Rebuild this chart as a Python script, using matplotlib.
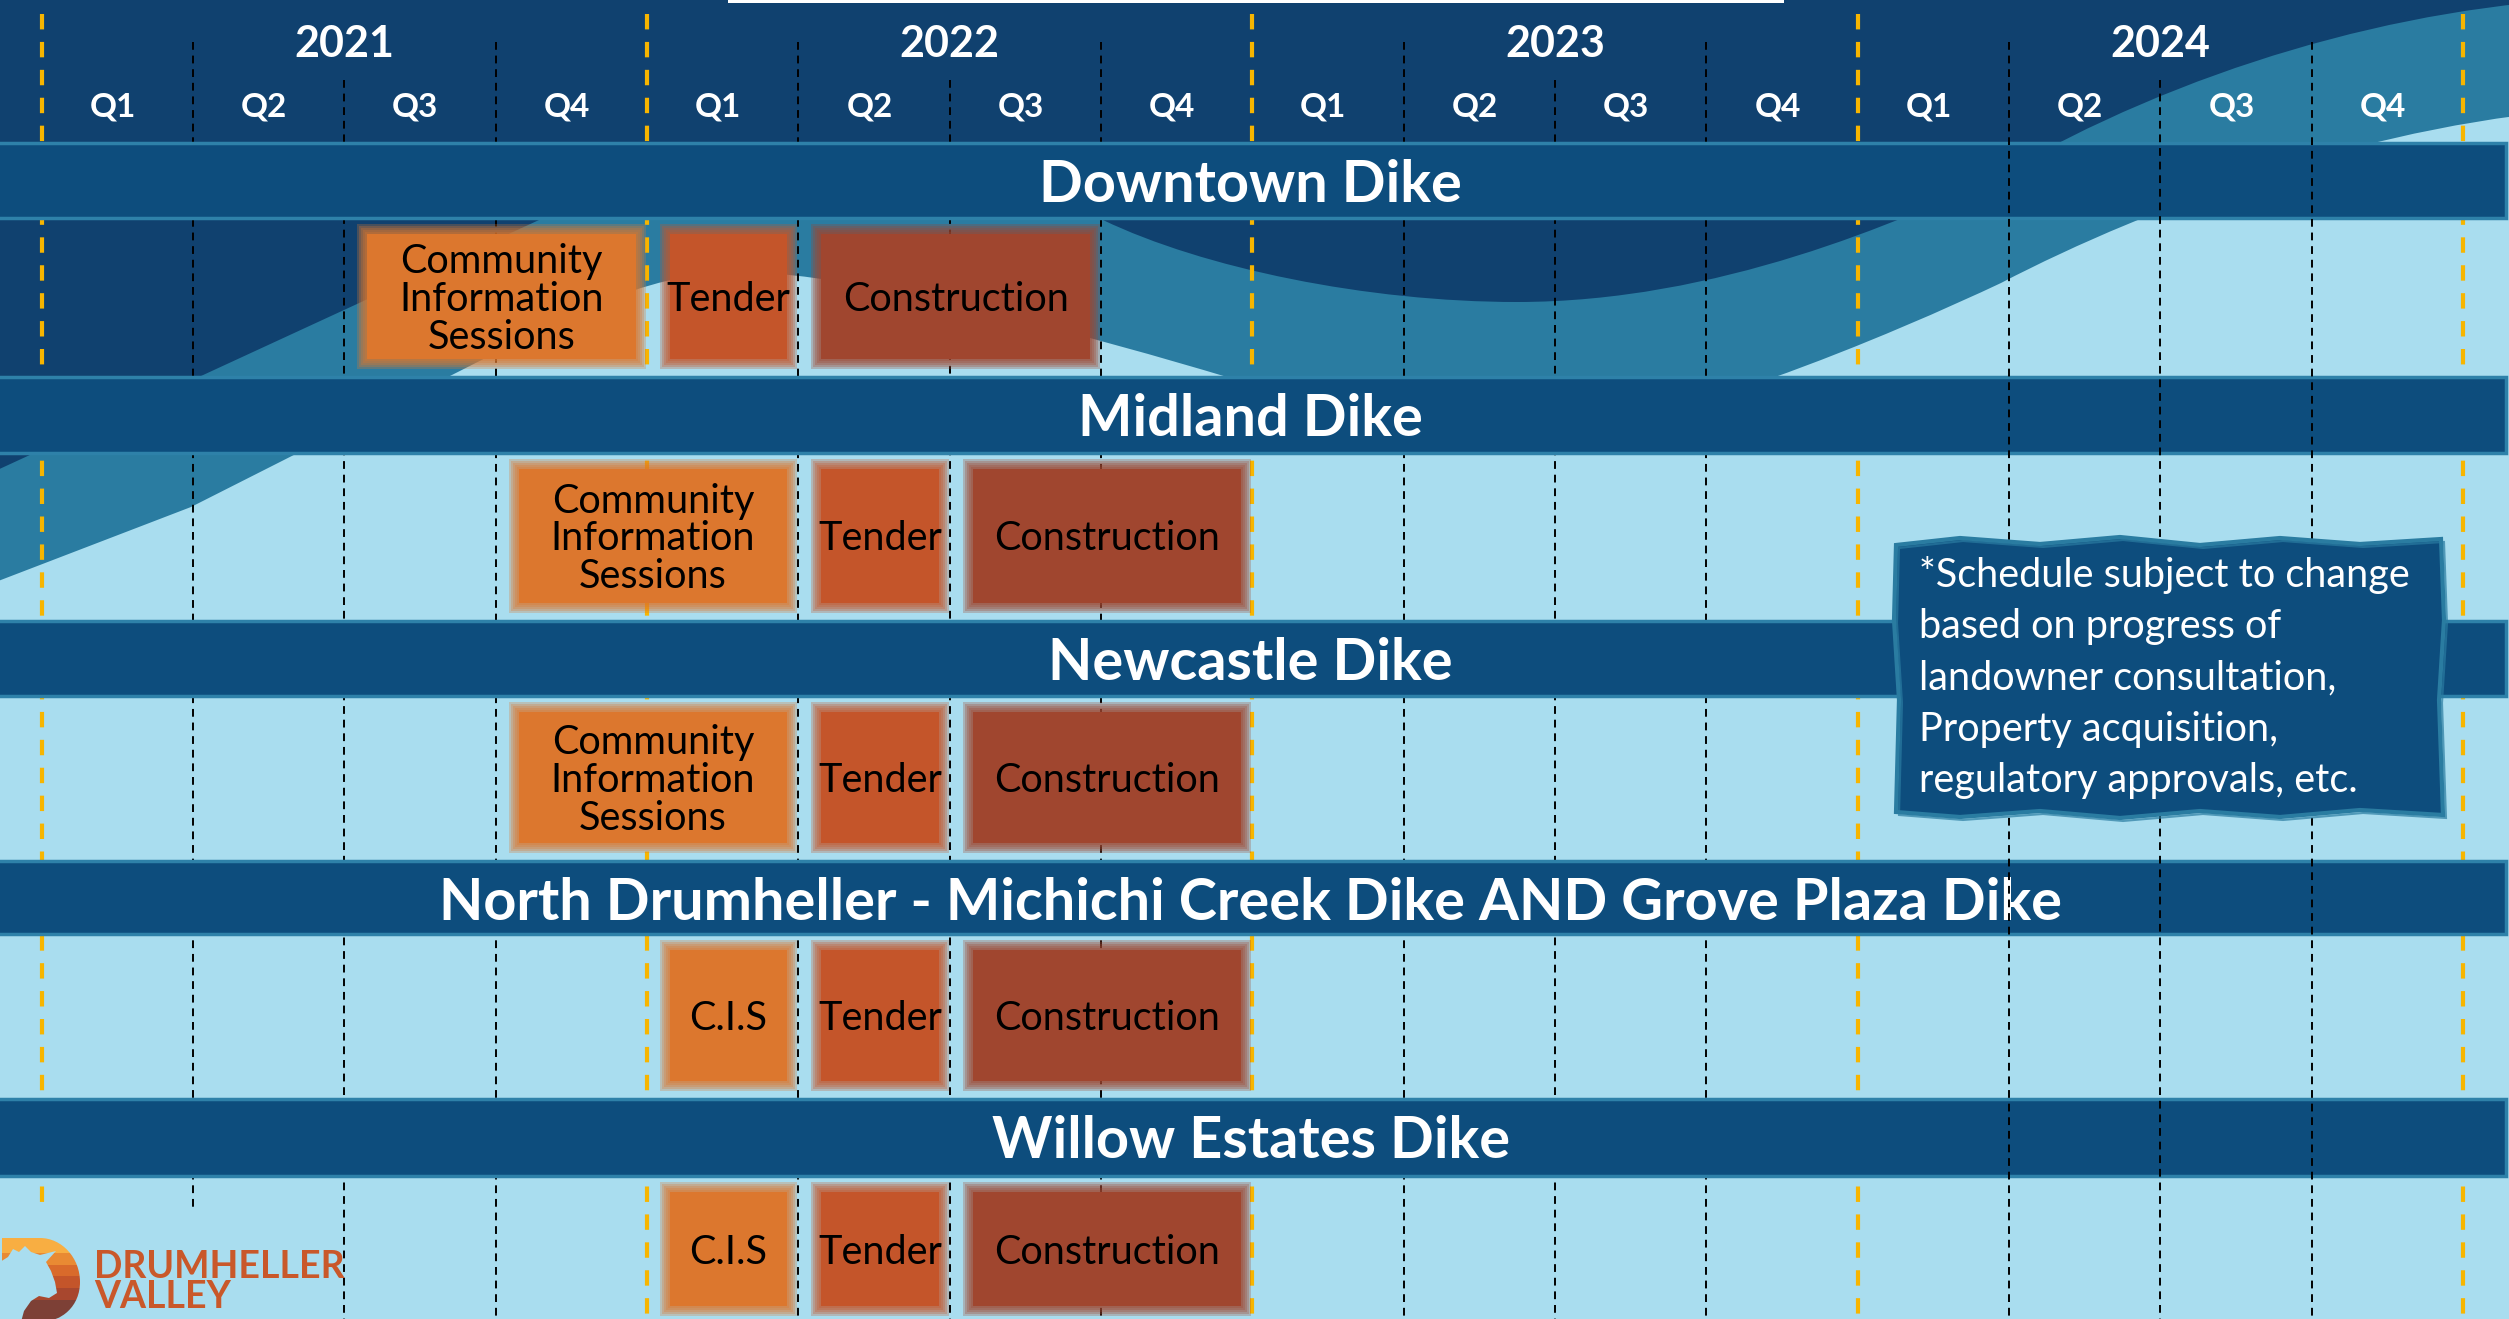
import matplotlib
matplotlib.use("Agg")
import matplotlib.pyplot as plt
from matplotlib.path import Path
from matplotlib.patches import PathPatch, Rectangle, Polygon
import matplotlib.transforms as mtransforms

# ---------------- data ----------------
years = ["2021", "2022", "2023", "2024"]
quarters = ["Q1", "Q2", "Q3", "Q4"]
projects = ["Downtown Dike", "Midland Dike", "Newcastle Dike",
            "North Drumheller - Michichi Creek Dike AND Grove Plaza Dike",
            "Willow Estates Dike"]
# phases in quarter index (0 = 2021 Q1 start)
cis_start = [2, 3, 3, 4, 4]
cis_end = [4, 5, 5, 5, 5]
tender_start = [4, 5, 5, 5, 5]
tender_end = [5, 6, 6, 6, 6]
construction_start = [5, 6, 6, 6, 6]
construction_end = [7, 8, 8, 8, 8]
cis_labels = ["Community\nInformation\nSessions"] * 3 + ["C.I.S"] * 2
tender_labels = ["Tender"] * 5
construction_labels = ["Construction"] * 5
note_lines = ["*Schedule subject to change",
              "based on progress of",
              "landowner consultation,",
              "Property acquisition,",
              "regulatory approvals, etc."]

# ---------------- style ----------------
DARK = "#10416f"
MED = "#2a7ca1"
LIGHT = "#a9ddef"
BAND = "#0d4d7d"
BAND_EDGE = "#2e81a9"
YELLOW = "#f7b500"
C_CIS = "#dc772e"
C_TEN = "#c4552a"
C_CON = "#a0462f"
FONT = ["Lato", "DejaVu Sans"]

W, H = 2509, 1319
X0, QW = 41.5, 151.35
band_top = [143, 377, 621, 861, 1099]
band_bot = [218, 453, 696, 934, 1176]

fig = plt.figure(figsize=(W / 100, H / 100), dpi=100)
fig.patch.set_facecolor(LIGHT)

ax_bg = fig.add_axes([0, 0, 1, 1])
ax_bg.set_xlim(0, W)
ax_bg.set_ylim(H, 0)
ax_bg.axis("off")

ax = fig.add_axes([0, 0, 1, 1])
ax.set_xlim(-X0 / QW, (W - X0) / QW)
ax.set_ylim(H, 0)
ax.axis("off")

ax_top = fig.add_axes([0, 0, 1, 1])
ax_top.set_xlim(0, W)
ax_top.set_ylim(H, 0)
ax_top.axis("off")

# ---------------- background waves ----------------
M, L, C = Path.MOVETO, Path.LINETO, Path.CURVE4
med_v = [(-20, -20), (-20, 588), (191, 507), (448, 377),
         (558, 322), (640, 272), (740, 272),
         (860, 272), (1107, 341), (1227, 377),
         (1320, 405), (1420, 440), (1500, 440),
         (1650, 440), (1901, 330), (2001, 283),
         (2151, 205), (2380, 120), (2600, 108),
         (2600, -20), (-20, -20)]
med_c = [M, L, L, L] + [C] * 15 + [L, Path.CLOSEPOLY]
ax_bg.add_patch(PathPatch(Path(med_v, med_c), fc=MED, ec="none", zorder=1))

dark_v = [(-20, -20), (-20, 478), (539, 220),
          (727, 128), (915, 128), (1103, 220),
          (1203, 268), (1367, 302), (1517, 302),
          (1717, 302), (1900, 222), (2000, 175),
          (2180, 70), (2400, 5), (2600, -2),
          (2600, -20), (-20, -20)]
dark_c = [M, L, L] + [C] * 12 + [L, Path.CLOSEPOLY]
ax_bg.add_patch(PathPatch(Path(dark_v, dark_c), fc=DARK, ec="none", zorder=2))
ax_bg.add_patch(Rectangle((728, 0), 1056, 3, fc="white", ec="none", zorder=3))

# ---------------- grid lines ----------------
for k in range(17):
    bottom = 1208 if k < 2 else H
    if k % 4 == 0:
        ax.plot([k, k], [14, bottom], color=YELLOW, lw=3.0,
                linestyle=(0, (3.7, 3.0)), zorder=2, solid_capstyle="butt")
    else:
        top = 80 if k % 4 == 2 else 42
        z = 4 if k >= 13 else 2
        ax.plot([k, k], [top, bottom], color="black", lw=1.4,
                linestyle=(0, (4.0, 3.0)), zorder=z)

# header labels
for i, y in enumerate(years):
    ax.text(i * 4 + 2, 44, y, ha="center", va="center", color="white",
            fontsize=31, fontweight="bold", family=FONT, zorder=6)
    for j, q in enumerate(quarters):
        ax.text(i * 4 + j + 0.47, 107, q, ha="center", va="center", color="white",
                fontsize=24, fontweight="bold", family=FONT, zorder=6)

# ---------------- project bands ----------------
blend = mtransforms.blended_transform_factory(ax.transAxes, ax.transData)
for name, t, b in zip(projects, band_top, band_bot):
    ax.add_patch(Rectangle((-0.002, t), 1.0008, b - t, transform=blend, fc=BAND,
                           ec=BAND_EDGE, lw=2.5, zorder=3))
    ax.text(0.4985, t + 59.5, name, transform=blend, ha="center", va="baseline",
            color="white", fontsize=41.5, fontweight="bold", family=FONT, zorder=3.5)

# ---------------- phase boxes ----------------
def draw_box(q0, q1, y0, y1, color, label):
    x0 = q0 + 18 / QW
    x1 = q1 - 6 / QW
    inset = 5
    for g in [5, 3, 1, -1, -3]:
        gx = g / QW
        ax.add_patch(Rectangle((x0 - gx, y0 - g), (x1 - x0) + 2 * gx, (y1 - y0) + 2 * g,
                               fc=color, ec="none", alpha=0.28, zorder=5))
    ix = inset / QW
    ax.add_patch(Rectangle((x0 + ix, y0 + inset), (x1 - x0) - 2 * ix, (y1 - y0) - 2 * inset,
                           fc=color, ec="none", zorder=5))
    ax.text((x0 + x1) / 2, (y0 + y1) / 2 + 3, label, ha="center", va="center",
            color="black", fontsize=28.5, family=FONT, linespacing=1.02, zorder=6)

next_top = band_top[1:] + [H + 5]
for r in range(len(projects)):
    y0 = band_bot[r] + 11
    y1 = next_top[r] - 13
    draw_box(cis_start[r], cis_end[r], y0, y1, C_CIS, cis_labels[r])
    draw_box(tender_start[r], tender_end[r], y0, y1, C_TEN, tender_labels[r])
    draw_box(construction_start[r], construction_end[r], y0, y1, C_CON, construction_labels[r])

# ---------------- note box ----------------
note_v = [(1896, 545), (1960, 538), (2040, 544), (2120, 537), (2200, 545), (2280, 538),
          (2360, 544), (2441, 539), (2444, 620), (2439, 700), (2443, 815),
          (2360, 810), (2280, 817), (2200, 811), (2120, 818), (2040, 811), (1960, 817),
          (1896, 812), (1899, 700), (1894, 620)]
ax_top.add_patch(Polygon(note_v, closed=True, fc=BAND, ec=MED, lw=3, zorder=5))
ax_top.add_patch(Polygon([(x + 3, y + 3) for x, y in note_v], closed=True, fc="none",
                         ec=MED, lw=1.5, zorder=5, alpha=0.7))
for i, line in enumerate(note_lines):
    ax_top.text(1919, 587 + i * 51.3, line, ha="left", va="baseline", color="white",
                fontsize=28.5, family=FONT, zorder=6)

# ---------------- logo ----------------
ax_top.add_patch(Rectangle((0, 1212), 300, 110, fc=LIGHT, ec="none", zorder=4))
d_shape = Path([(2, 1238), (40, 1238), (62, 1238), (80, 1258), (80, 1282),
                (80, 1306), (62, 1322), (40, 1322), (2, 1322), (2, 1238)],
               [M, L, C, C, C, C, C, C, L, Path.CLOSEPOLY])
stripe_cols = ["#f8ae42", "#e98a33", "#d96a2b", "#c4552a", "#a8472e", "#7d4036"]
stripe_edges = [1236, 1253, 1265, 1276, 1288, 1300, 1322]
dpatch = PathPatch(d_shape, fc="none", ec="none", zorder=5)
ax_top.add_patch(dpatch)
for col, a, b in zip(stripe_cols, stripe_edges[:-1], stripe_edges[1:]):
    r = Rectangle((0, a), 90, b - a, fc=col, ec="none", zorder=5)
    ax_top.add_patch(r)
    r.set_clip_path(dpatch)
sil = [(0, 1262), (8, 1257), (13, 1249), (19, 1252), (25, 1246), (31, 1252), (40, 1255),
       (56, 1251), (46, 1262), (51, 1271), (55, 1282), (57, 1293), (49, 1298), (39, 1296),
       (31, 1301), (24, 1311), (21, 1322), (0, 1322)]
ax_top.add_patch(Polygon(sil, closed=True, fc=LIGHT, ec="none", zorder=6))
ax_top.text(94, 1278, "DRUMHELLER", ha="left", va="baseline", color="#c9582a",
            fontsize=27, fontweight="bold", family=FONT, zorder=6)
ax_top.text(94, 1308, "VALLEY", ha="left", va="baseline", color="#c9582a",
            fontsize=27, fontweight="bold", family=FONT, zorder=6)

fig.savefig("out.png", dpi=100, facecolor=LIGHT)
